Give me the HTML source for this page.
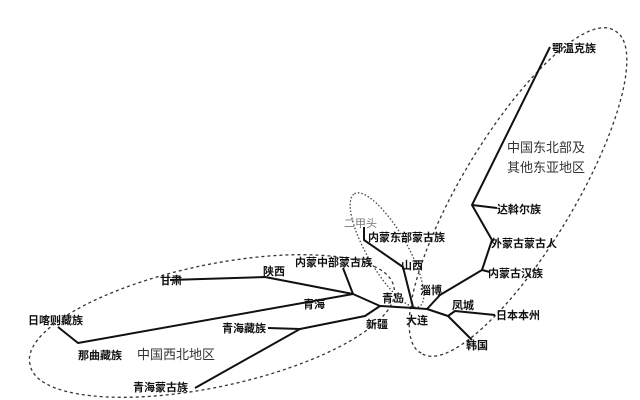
<!DOCTYPE html>
<html><head><meta charset="utf-8"><style>
html,body{margin:0;padding:0;width:640px;height:400px;overflow:hidden;background:#fff}
svg{display:block}
text{font-family:"Liberation Sans","Noto Sans CJK SC",sans-serif;font-size:11px;font-weight:bold;fill:#111}
.r{font-weight:normal;font-size:13px;fill:#333}
</style></head><body>
<svg width="640" height="400" viewBox="0 0 640 400">
<g fill="none" stroke="#333" stroke-width="1.3" stroke-dasharray="3,3">
<path d="M30.1,364.7 A186,60 -12 1,1 393.9,287.3 A186,60 -12 1,1 30.1,364.7 Z"/>
<path d="M421.2,353.1 A188,55 -59 1,1 614.8,30.9 A188,55 -59 1,1 421.2,353.1 Z"/>
</g>
<path d="M354.5,193.7 A65,20 60 1,1 419.5,306.3 A65,20 60 1,1 354.5,193.7 Z" fill="none" stroke="#444" stroke-width="1.3" stroke-dasharray="1.5,2"/>
<g fill="none" stroke="#111" stroke-width="2" stroke-linejoin="round">
<polyline points="170,280 265,277 353,294 380,306"/>
<polyline points="343,268 353,294"/>
<polyline points="58,327 78,343 353,294"/>
<polyline points="195,388 300,329 268,328"/>
<polyline points="300,329 365,316 380,306 413,308 427,309 440,295 482,270 492,240 472,205 550,47"/>
<polyline points="482,270 490,272"/>
<polyline points="472,205 497,208"/>
<polyline points="364,227 364,240 403,267 413,307"/>
<polyline points="427,309 448,316 455,311 495,315"/>
<polyline points="448,316 472,340"/>
</g>
<text x="552" y="52">鄂温克族</text>
<text class="r" x="507" y="152">中国东北部及</text>
<text class="r" x="507" y="172">其他东亚地区</text>
<text x="497" y="213">达斡尔族</text>
<text x="491" y="247">外蒙古蒙古人</text>
<text x="488" y="277">内蒙古汉族</text>
<text x="496" y="319">日本本州</text>
<text x="452" y="309">凤城</text>
<text x="466" y="349">韩国</text>
<text class="r" x="344" y="227" style="font-size:11px;fill:#777">二甲头</text>
<text x="368" y="241">内蒙东部蒙古族</text>
<text x="401" y="269">山西</text>
<text x="420" y="294">淄博</text>
<text x="382" y="302">青岛</text>
<text x="406" y="324">大连</text>
<text x="366" y="328">新疆</text>
<text x="295" y="266">内蒙中部蒙古族</text>
<text x="263" y="275">陕西</text>
<text x="303" y="308">青海</text>
<text x="160" y="284">甘肃</text>
<text x="28" y="324">日喀则藏族</text>
<text x="222" y="332">青海藏族</text>
<text x="78" y="359">那曲藏族</text>
<text class="r" x="137" y="359">中国西北地区</text>
<text x="133" y="391">青海蒙古族</text>
</svg>
</body></html>
